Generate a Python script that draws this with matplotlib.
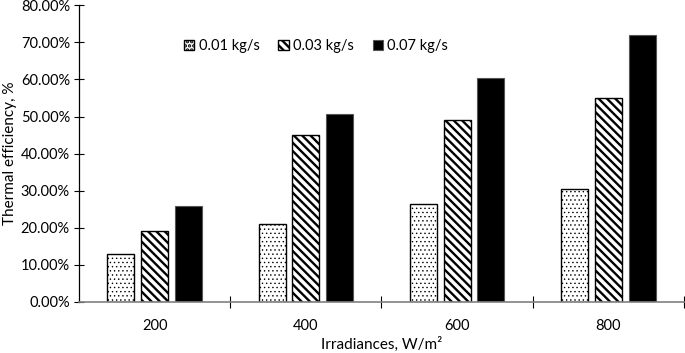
import numpy as np
import matplotlib
matplotlib.use('Agg')
import matplotlib.pyplot as plt
import matplotlib.ticker as ticker

plt.rcParams['font.family'] = ['Lato', 'DejaVu Sans']

irradiance = ['200', '400', '600', '800']
flow_labels = ['0.01 kg/s', '0.03 kg/s', '0.07 kg/s']
eff_001 = [13.0, 21.0, 26.5, 30.6]
eff_003 = [19.2, 45.0, 49.0, 54.9]
eff_007 = [25.8, 50.7, 60.5, 72.0]

fig = plt.figure(figsize=(6.85, 3.53), dpi=100)
ax = fig.add_axes([0.1153, 0.1445, 0.8832, 0.8405])

x = np.arange(len(irradiance))
w = 0.178
off = 0.223

plt.rcParams['hatch.linewidth'] = 0.5
b1 = ax.bar(x - off, eff_001, w, color='white', edgecolor='black', linewidth=1.0,
            hatch='....', label=flow_labels[0])
plt.rcParams['hatch.linewidth'] = 1.7
b2 = ax.bar(x, eff_003, w, color='white', edgecolor='black', linewidth=1.0,
            hatch='\\\\\\\\', label=flow_labels[1])
b3 = ax.bar(x + off, eff_007, w, color='black', edgecolor='#555555', linewidth=0.8,
            label=flow_labels[2])
for p in b1:
    if hasattr(p, 'set_hatch_linewidth'):
        p.set_hatch_linewidth(0.5)
for p in b2:
    if hasattr(p, 'set_hatch_linewidth'):
        p.set_hatch_linewidth(1.7)

ax.set_xlim(-0.5, 3.5)
ax.set_ylim(0, 80)
ax.yaxis.set_major_locator(ticker.MultipleLocator(10))
ax.yaxis.set_major_formatter(ticker.FuncFormatter(lambda v, p: '%.2f%%' % v))

ax.set_xticks(x)
ax.set_xticklabels(irradiance)
ax.set_xticks([0.5, 1.5, 2.5, 3.5], minor=True)
ax.tick_params(axis='x', which='major', length=0, labelsize=10.5, pad=12)
ax.tick_params(axis='x', which='minor', direction='inout', length=9, width=0.8, color='black')
ax.tick_params(axis='y', direction='inout', length=7, width=0.8, labelsize=10.5, pad=3)

for s in ['top', 'right']:
    ax.spines[s].set_visible(False)
ax.spines['left'].set_linewidth(0.9)
ax.spines['bottom'].set_color('#808080')
ax.spines['bottom'].set_linewidth(1.2)

ax.set_xlabel('Irradiances, W/m²', fontsize=11, labelpad=3)
ax.set_ylabel('Thermal efficiency, %', fontsize=11, labelpad=3)

ax.legend(loc='center', bbox_to_anchor=(0.392, 0.862), ncol=3, frameon=False,
          fontsize=10.5, handlelength=0.7, handleheight=0.7, handletextpad=0.3,
          columnspacing=1.3)

fig.savefig('out.png', dpi=100)
